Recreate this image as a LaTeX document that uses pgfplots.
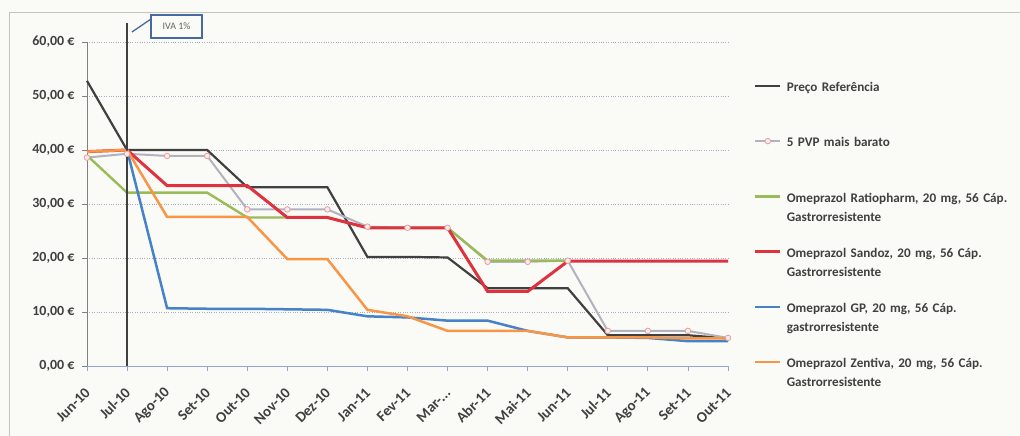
\documentclass[border=0pt]{standalone}
\usepackage{fontspec}
\setmainfont{Carlito}
\usepackage{pgfplots}
\pgfplotsset{compat=1.18}
\definecolor{bg}{RGB}{250,250,246}
\definecolor{txt}{RGB}{64,64,64}
\definecolor{cref}{RGB}{64,64,64}
\definecolor{cpvp}{RGB}{178,178,192}
\definecolor{cpvpm}{RGB}{230,160,160}
\definecolor{cpvpf}{RGB}{250,235,235}
\definecolor{cratio}{RGB}{155,187,89}
\definecolor{csand}{RGB}{222,50,62}
\definecolor{cgp}{RGB}{70,130,200}
\definecolor{czen}{RGB}{247,150,70}
\definecolor{cgrid}{RGB}{165,175,200}
\definecolor{caxis}{RGB}{128,128,128}
\definecolor{cxaxis}{RGB}{150,165,205}
\definecolor{ccall}{RGB}{70,105,160}
\definecolor{cframe}{RGB}{195,195,195}
\begin{document}
\begin{tikzpicture}
\fill[bg] (0,0) rectangle (1020bp,436bp);
\useasboundingbox (0,0) rectangle (1020bp,436bp);
\draw[cframe, line width=0.8bp] (9bp,0) -- (9bp,424bp) -- (1020bp,424bp);
\begin{axis}[
  at={(87bp,70bp)}, anchor=south west,
  scale only axis, width=641bp, height=324bp,
  xmin=0, xmax=16, ymin=0, ymax=60,
  axis x line*=bottom, axis y line*=left,
  y axis line style={caxis, line width=1bp},
  x axis line style={cxaxis, line width=1bp},
  tick align=outside, major tick length=5bp,
  ytick style={caxis, line width=0.8bp},
  xtick style={cxaxis, line width=0.8bp},
  ytick={0,10,20,30,40,50,60},
  yticklabels={{0,00 €},{10,00 €},{20,00 €},{30,00 €},{40,00 €},{50,00 €},{60,00 €}},
  xtick={0,1,2,3,4,5,6,7,8,9,10,11,12,13,14,15,16},
  xticklabels={Jun-10,Jul-10,Ago-10,Set-10,Out-10,Nov-10,Dez-10,Jan-11,Fev-11,{Mar-.{}.{}.},Abr-11,Mai-11,Jun-11,Jul-11,Ago-11,Set-11,Out-11},
  yticklabel style={font=\fontsize{14}{16}\selectfont\bfseries, text=txt, xshift=-4bp},
  xticklabel style={font=\fontsize{15}{17}\selectfont\bfseries, text=txt, xshift=3bp, yshift=-17bp, rotate=45, anchor=east},
  ymajorgrids, grid style={cgrid, dotted, line width=0.8bp},
  clip=false,
  legend cell align=left,
  legend image code/.code={\draw[mark repeat=2,mark phase=2,#1] plot coordinates {(0bp,0bp) (12.5bp,0bp) (25bp,0bp)};},
  legend style={at={(1.040,0.888)}, anchor=north west, draw=none, fill=none,
    row sep=40.5bp, column sep=5bp, inner sep=0pt,
    nodes={inner sep=0pt, text width=240bp, align=left, text=txt,
      font=\fontsize{13.2}{19}\selectfont\bfseries}},
]
\addplot[cref, line width=2.2bp] coordinates {(0,52.8) (1,40) (2,40) (3,40) (4,33.1) (5,33.1) (6,33.1) (7,20.2) (8,20.2) (9,20.1) (10,14.4) (11,14.4) (12,14.4) (13,5.7) (14,5.7) (15,5.7) (16,5.1)};
\addlegendentry{\strut Preço Referência\\\strut}
\addplot[cpvp, line width=2bp, mark=*, mark size=2.8bp, mark options={draw=cpvpm, fill=cpvpf, line width=0.8bp}] coordinates {(0,38.6) (1,39.3) (2,38.9) (3,38.9) (4,29.0) (5,29.0) (6,29.0) (7,25.8) (8,25.6) (9,25.6) (10,19.3) (11,19.3) (12,19.5) (13,6.5) (14,6.5) (15,6.5) (16,5.2)};
\addlegendentry{\strut 5 PVP mais barato\\\strut}
\addplot[cratio, line width=2.4bp] coordinates {(0,39.0) (1,32.1) (2,32.1) (3,32.1) (4,27.5) (5,27.5) (6,27.5) (7,25.6) (8,25.6) (9,25.6) (10,19.5) (11,19.5) (12,19.5)};
\addlegendentry{\strut Omeprazol Ratiopharm, 20 mg, 56 Cáp.\\Gastrorresistente\strut}
\addplot[csand, line width=3bp] coordinates {(0,39.7) (1,40) (2,33.4) (3,33.4) (4,33.4) (5,27.5) (6,27.5) (7,25.6) (8,25.6) (9,25.6) (10,13.8) (11,13.8) (12,19.4) (13,19.4) (14,19.4) (15,19.4) (16,19.4)};
\addlegendentry{\strut Omeprazol Sandoz, 20 mg, 56 Cáp.\\Gastrorresistente\strut}
\addplot[cgp, line width=2.5bp] coordinates {(1,40) (2,10.7) (3,10.6) (4,10.6) (5,10.5) (6,10.4) (7,9.2) (8,9.0) (9,8.4) (10,8.4) (11,6.5) (12,5.3) (13,5.3) (14,5.2) (15,4.6) (16,4.6)};
\addlegendentry{\strut Omeprazol GP, 20 mg, 56 Cáp.\\gastrorresistente\strut}
\addplot[czen, line width=2.5bp] coordinates {(0,39.7) (1,40) (2,27.6) (3,27.6) (4,27.6) (5,19.8) (6,19.8) (7,10.4) (8,9.2) (9,6.5) (10,6.5) (11,6.5) (12,5.3) (13,5.3) (14,5.3) (15,5.1) (16,5.1)};
\addlegendentry{\strut Omeprazol Zentiva, 20 mg, 56 Cáp.\\Gastrorresistente\strut}
\addplot[cref, line width=2.4bp, forget plot] coordinates {(1,0) (1,63.6)};
\end{axis}
\draw[ccall, line width=1.3bp] (132bp,404bp) -- (151bp,417bp);
\draw[ccall, line width=1.5bp] (151bp,398bp) rectangle (202bp,421bp);
\node[font=\fontsize{10}{11}\selectfont, text={rgb,255:red,100;green,100;blue,100}] at (176.5bp,409.5bp) {IVA 1\%};
\end{tikzpicture}
\end{document}
